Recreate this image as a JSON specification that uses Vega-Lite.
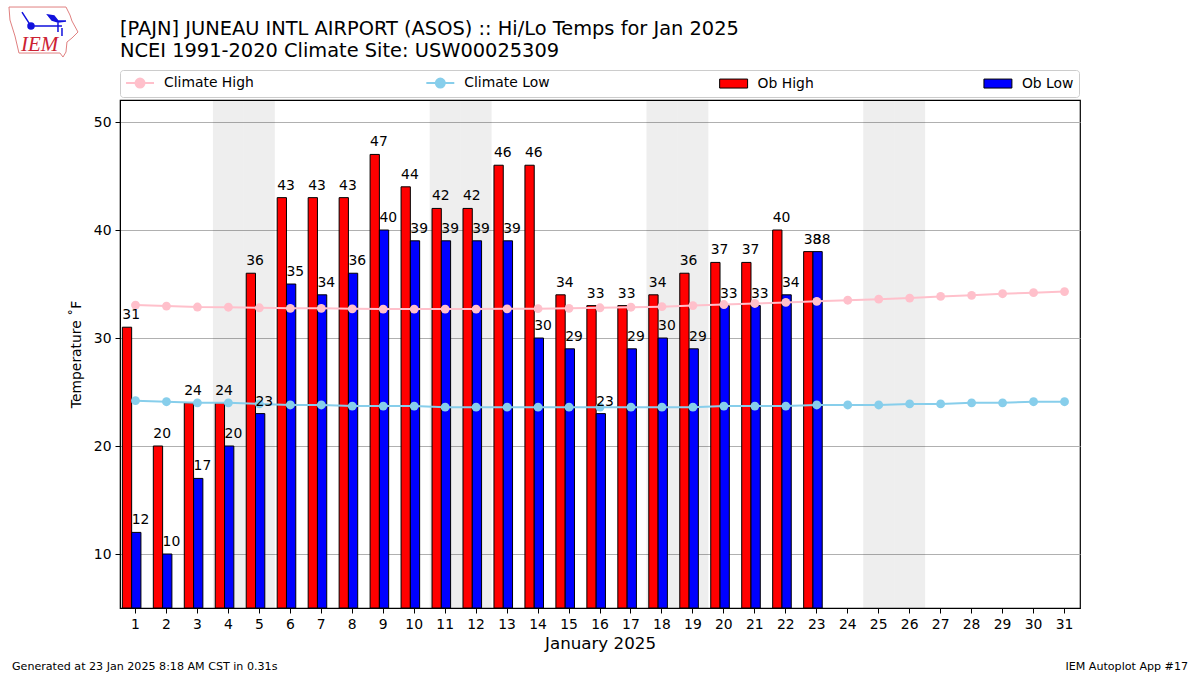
{
"$schema":"https://vega.github.io/schema/vega-lite/v6.json",
"width":960,"height":508,
"autosize":{"type":"none"},
"padding":{"left":120,"top":100,"right":120,"bottom":67},
"background":"white",
"config":{"font":"DejaVu Sans","view":{"stroke":"black","strokeWidth":1.2},"text":{"font":"DejaVu Sans"}},
"title":{"text":["[PAJN] JUNEAU INTL AIRPORT (ASOS) :: Hi/Lo Temps for Jan 2025","NCEI 1991-2020 Climate Site: USW00025309"],"anchor":"start","frame":"group","font":"DejaVu Sans","fontSize":19.4,"fontWeight":"normal","lineHeight":21.5,"color":"black","offset":-56},
"data":{"values":[
{"day":1,"series":"Ob High","value":31},{"day":2,"series":"Ob High","value":20},{"day":3,"series":"Ob High","value":24},{"day":4,"series":"Ob High","value":24},{"day":5,"series":"Ob High","value":36},{"day":6,"series":"Ob High","value":43},{"day":7,"series":"Ob High","value":43},{"day":8,"series":"Ob High","value":43},{"day":9,"series":"Ob High","value":47},{"day":10,"series":"Ob High","value":44},{"day":11,"series":"Ob High","value":42},{"day":12,"series":"Ob High","value":42},{"day":13,"series":"Ob High","value":46},{"day":14,"series":"Ob High","value":46},{"day":15,"series":"Ob High","value":34},{"day":16,"series":"Ob High","value":33},{"day":17,"series":"Ob High","value":33},{"day":18,"series":"Ob High","value":34},{"day":19,"series":"Ob High","value":36},{"day":20,"series":"Ob High","value":37},{"day":21,"series":"Ob High","value":37},{"day":22,"series":"Ob High","value":40},{"day":23,"series":"Ob High","value":38},
{"day":1,"series":"Ob Low","value":12},{"day":2,"series":"Ob Low","value":10},{"day":3,"series":"Ob Low","value":17},{"day":4,"series":"Ob Low","value":20},{"day":5,"series":"Ob Low","value":23},{"day":6,"series":"Ob Low","value":35},{"day":7,"series":"Ob Low","value":34},{"day":8,"series":"Ob Low","value":36},{"day":9,"series":"Ob Low","value":40},{"day":10,"series":"Ob Low","value":39},{"day":11,"series":"Ob Low","value":39},{"day":12,"series":"Ob Low","value":39},{"day":13,"series":"Ob Low","value":39},{"day":14,"series":"Ob Low","value":30},{"day":15,"series":"Ob Low","value":29},{"day":16,"series":"Ob Low","value":23},{"day":17,"series":"Ob Low","value":29},{"day":18,"series":"Ob Low","value":30},{"day":19,"series":"Ob Low","value":29},{"day":20,"series":"Ob Low","value":33},{"day":21,"series":"Ob Low","value":33},{"day":22,"series":"Ob Low","value":34},{"day":23,"series":"Ob Low","value":38},
{"day":1,"series":"Climate High","value":33.05},{"day":2,"series":"Climate High","value":32.96},{"day":3,"series":"Climate High","value":32.87},{"day":4,"series":"Climate High","value":32.85},{"day":5,"series":"Climate High","value":32.8},{"day":6,"series":"Climate High","value":32.75},{"day":7,"series":"Climate High","value":32.75},{"day":8,"series":"Climate High","value":32.7},{"day":9,"series":"Climate High","value":32.68},{"day":10,"series":"Climate High","value":32.68},{"day":11,"series":"Climate High","value":32.68},{"day":12,"series":"Climate High","value":32.68},{"day":13,"series":"Climate High","value":32.7},{"day":14,"series":"Climate High","value":32.72},{"day":15,"series":"Climate High","value":32.75},{"day":16,"series":"Climate High","value":32.8},{"day":17,"series":"Climate High","value":32.85},{"day":18,"series":"Climate High","value":32.9},{"day":19,"series":"Climate High","value":33},{"day":20,"series":"Climate High","value":33.1},{"day":21,"series":"Climate High","value":33.2},{"day":22,"series":"Climate High","value":33.3},{"day":23,"series":"Climate High","value":33.4},{"day":24,"series":"Climate High","value":33.5},{"day":25,"series":"Climate High","value":33.6},{"day":26,"series":"Climate High","value":33.7},{"day":27,"series":"Climate High","value":33.85},{"day":28,"series":"Climate High","value":33.95},{"day":29,"series":"Climate High","value":34.1},{"day":30,"series":"Climate High","value":34.2},{"day":31,"series":"Climate High","value":34.3},
{"day":1,"series":"Climate Low","value":24.2},{"day":2,"series":"Climate Low","value":24.1},{"day":3,"series":"Climate Low","value":24},{"day":4,"series":"Climate Low","value":24},{"day":5,"series":"Climate Low","value":23.9},{"day":6,"series":"Climate Low","value":23.8},{"day":7,"series":"Climate Low","value":23.8},{"day":8,"series":"Climate Low","value":23.7},{"day":9,"series":"Climate Low","value":23.7},{"day":10,"series":"Climate Low","value":23.7},{"day":11,"series":"Climate Low","value":23.6},{"day":12,"series":"Climate Low","value":23.6},{"day":13,"series":"Climate Low","value":23.6},{"day":14,"series":"Climate Low","value":23.6},{"day":15,"series":"Climate Low","value":23.6},{"day":16,"series":"Climate Low","value":23.6},{"day":17,"series":"Climate Low","value":23.6},{"day":18,"series":"Climate Low","value":23.6},{"day":19,"series":"Climate Low","value":23.6},{"day":20,"series":"Climate Low","value":23.7},{"day":21,"series":"Climate Low","value":23.7},{"day":22,"series":"Climate Low","value":23.7},{"day":23,"series":"Climate Low","value":23.8},{"day":24,"series":"Climate Low","value":23.8},{"day":25,"series":"Climate Low","value":23.8},{"day":26,"series":"Climate Low","value":23.9},{"day":27,"series":"Climate Low","value":23.9},{"day":28,"series":"Climate Low","value":24},{"day":29,"series":"Climate Low","value":24},{"day":30,"series":"Climate Low","value":24.1},{"day":31,"series":"Climate Low","value":24.1}
]},
"encoding":{
"x":{"field":"day","type":"ordinal","title":"January 2025",
"scale":{"type":"band","domain":[1,2,3,4,5,6,7,8,9,10,11,12,13,14,15,16,17,18,19,20,21,22,23,24,25,26,27,28,29,30,31],"paddingInner":0,"paddingOuter":0},
"axis":{"labelAngle":0,"labelFontSize":13.9,"labelColor":"black","labelFont":"DejaVu Sans","tickColor":"black","tickSize":5,"labelPadding":4,"domainColor":"black","titleFontSize":16.7,"titleFontWeight":"normal","titleColor":"black","titlePadding":5,"grid":false}},
"y":{"field":"value","type":"quantitative","title":"Temperature ˚F",
"scale":{"domain":[5,52.04],"nice":false,"zero":false},
"axis":{"values":[10,20,30,40,50],"grid":true,"gridColor":"#b0b0b0","gridWidth":1,"labelFontSize":13.9,"labelColor":"black","tickColor":"black","tickSize":5,"labelPadding":4,"domainColor":"black","titleFontSize":13.9,"titleFontWeight":"normal","titleColor":"black","titlePadding":10}}
},
"layer":[
{"data":{"values":[{"day":4,"top":52.04},{"day":5,"top":52.04},{"day":11,"top":52.04},{"day":12,"top":52.04},{"day":18,"top":52.04},{"day":19,"top":52.04},{"day":25,"top":52.04},{"day":26,"top":52.04}]},
 "mark":{"type":"bar","fill":"#000000","fillOpacity":0.068,"strokeWidth":0},
 "encoding":{"y":{"field":"top","type":"quantitative"},"y2":{"datum":5}}},
{"transform":[{"filter":"datum.series=='Ob High'||datum.series=='Ob Low'"}],
 "mark":{"type":"bar","stroke":"black","strokeWidth":1},
 "encoding":{"xOffset":{"field":"series","type":"nominal","scale":{"domain":["Ob High","Ob Low"],"paddingInner":0,"paddingOuter":0.667,"align":0.19}},
  "fill":{"condition":{"test":"datum.series=='Ob High'","value":"#ff0000"},"value":"#0000ff"},
  "y":{"field":"value","type":"quantitative"},"y2":{"datum":5}}},
{"transform":[{"filter":"datum.series=='Climate High'||datum.series=='Climate Low'"}],
 "mark":{"type":"line","strokeWidth":2},
 "encoding":{"detail":{"field":"series"},"stroke":{"condition":{"test":"datum.series=='Climate High'","value":"#ffc0cb"},"value":"#87ceeb"}}},
{"transform":[{"filter":"datum.series=='Climate High'||datum.series=='Climate Low'"}],
 "mark":{"type":"point","filled":true,"size":78,"opacity":1},
 "encoding":{"fill":{"condition":{"test":"datum.series=='Climate High'","value":"#ffc0cb"},"value":"#87ceeb"}}},
{"transform":[{"filter":"datum.series=='Ob High'||datum.series=='Ob Low'"}],
 "mark":{"type":"text","align":"left","baseline":"alphabetic","dx":-4.65,"dy":-8,"fontSize":13.9,"color":"black"},
 "encoding":{"xOffset":{"field":"series","type":"nominal"},"text":{"field":"value","type":"quantitative"}}},
{"mark":{"type":"point","size":0,"filled":true,"opacity":1},
 "encoding":{
  "fill":{"field":"series","type":"nominal","title":null,"scale":{"domain":["Climate High","Climate Low","Ob High","Ob Low"],"range":["#ffc0cb","#87ceeb","#ff0000","#0000ff"]},
   "legend":{"orient":"none","legendX":0,"legendY":-30,"columns":4,"gridAlign":"each","columnPadding":167.3,"padding":5.5,"symbolSize":169,"labelOffset":23.5,"labelFontSize":13.9,"labelFont":"DejaVu Sans","labelColor":"black","strokeColor":"#cccccc","fillColor":"white","cornerRadius":3}},
  "stroke":{"field":"series","type":"nominal","title":null,"scale":{"domain":["Climate High","Climate Low","Ob High","Ob Low"],"range":["#ffc0cb","#87ceeb","#000000","#000000"]}},
  "strokeWidth":{"field":"series","type":"ordinal","title":null,"scale":{"type":"ordinal","domain":["Climate High","Climate Low","Ob High","Ob Low"],"range":[2,2,1,1]}},
  "shape":{"field":"series","type":"nominal","title":null,
   "scale":{"domain":["Climate High","Climate Low","Ob High","Ob Low"],
    "range":["M-1.07,0L3.23,0M0.39,0a0.69,0.69 0 1,0 1.38,0a0.69,0.69 0 1,0 -1.38,0Z","M-1.07,0L3.23,0M0.39,0a0.69,0.69 0 1,0 1.38,0a0.69,0.69 0 1,0 -1.38,0Z","M-1.07,-0.69L3.23,-0.69L3.23,0.69L-1.07,0.69Z","M-1.07,-0.69L3.23,-0.69L3.23,0.69L-1.07,0.69Z"]},
   "legend":{"orient":"none","legendX":0,"legendY":-30,"columns":4,"gridAlign":"each","columnPadding":167.3,"padding":5.5,"symbolSize":169,"labelOffset":23.5,"labelFontSize":13.9,"labelFont":"DejaVu Sans","labelColor":"black","strokeColor":"#cccccc","fillColor":"white","cornerRadius":3}}
 }},
{"data":{"values":[{"day":1,"value":5,"label":"Generated at 23 Jan 2025 8:18 AM CST in 0.31s"}]},
 "mark":{"type":"text","align":"left","baseline":"alphabetic","dx":-123.5,"dy":62,"fontSize":11.1,"color":"black"},
 "encoding":{"text":{"field":"label"}}},
{"data":{"values":[{"day":31,"value":5,"label":"IEM Autoplot App #17"}]},
 "mark":{"type":"text","align":"right","baseline":"alphabetic","dx":123.5,"dy":62,"fontSize":11.1,"color":"black"},
 "encoding":{"text":{"field":"label"}}},
{"data":{"values":[{"day":1,"value":50,"label":"IEM"}]},
 "mark":{"type":"text","align":"left","baseline":"alphabetic","dx":-114.5,"dy":-71,"fontSize":21,"font":"Liberation Serif","fontStyle":"italic","color":"#cc2233"},
 "encoding":{"text":{"field":"label"}}},
{"data":{"values":[{"day":1,"value":50}]},
 "mark":{"type":"point","size":4,"opacity":1,"filled":false,"stroke":"#e08080","strokeWidth":1,"shape":"M-126.5,-115L-69.5,-115L-65.5,-107L-63.5,-101L-57.5,-90L-63.5,-84L-68.5,-80L-69.5,-70L-72.5,-65L-75.5,-69L-116.5,-69L-120.5,-86L-125.5,-102Z"}},
{"data":{"values":[{"day":1,"value":50}]},
 "mark":{"type":"point","size":4,"opacity":1,"filled":true,"fill":"#1111dd","stroke":"#1111dd","strokeWidth":1.5,"shape":"M-104.5,-96L-73.5,-96M-113.5,-110L-104.5,-96M-77.5,-100L-77.5,-90M-73.5,-94L-73.5,-86M-87.5,-107L-81.5,-106L-77.5,-101L-69.5,-101L-77.5,-100L-83.5,-102ZM-107.5,-96a3,3 0 1,0 6,0a3,3 0 1,0 -6,0Z"}}
]
}
